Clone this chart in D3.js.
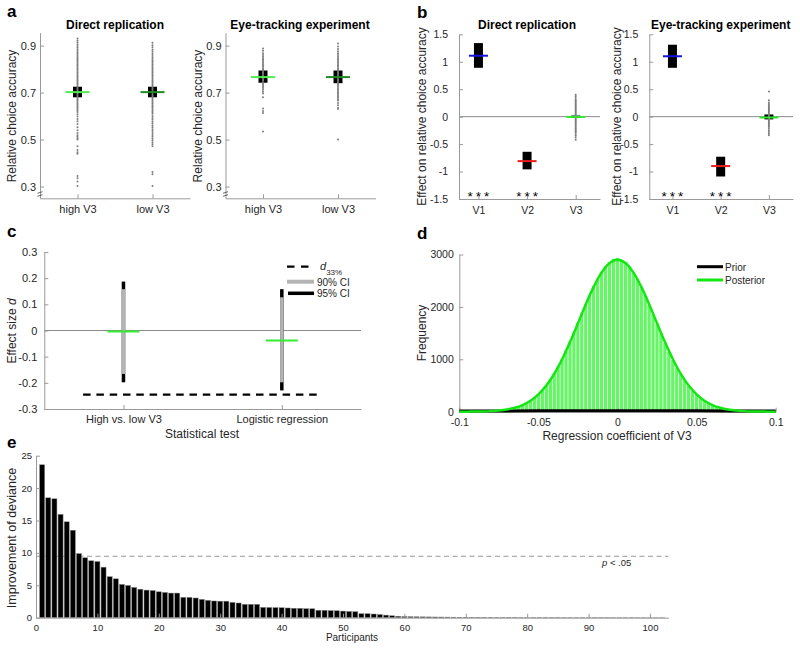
<!DOCTYPE html>
<html><head><meta charset="utf-8">
<script src="https://cdn.jsdelivr.net/npm/d3@7"></script>
<style>body{margin:0;background:#fff} svg{display:block}</style>
</head><body><svg id="chart" width="800" height="650"></svg>
<script>
// ---------------- DATA ----------------
// Panel a
const aCategories = ["high V3", "low V3"];
const aTicks = [0.3, 0.5, 0.7, 0.9];
const dirMedian = [0.702, 0.702];
const dirQ1 = [0.680, 0.680];
const dirQ3 = [0.725, 0.725];
const eyeMedian = [0.766, 0.766];
const eyeQ1 = [0.742, 0.740];
const eyeQ3 = [0.794, 0.794];
const dirHighDots = [0.93,0.922,0.914,0.906,0.898,0.891,0.884,0.877,0.870,0.864,0.858,0.852,0.846,0.840,0.834,0.828,0.822,0.816,0.810,0.804,0.798,0.792,0.786,0.780,0.774,0.768,0.762,0.756,0.750,0.744,0.738,0.732,0.726,0.720,0.714,0.708,0.702,0.696,0.690,0.684,0.678,0.672,0.666,0.660,0.654,0.648,0.642,0.636,0.630,0.624,0.617,0.608,0.598,0.588,0.578,0.566,0.553,0.540,0.528,0.518,0.512,0.506,0.500,0.472,0.456,0.446,0.440,0.345,0.335,0.322,0.302];
const dirLowDots = [0.912,0.902,0.893,0.884,0.876,0.868,0.860,0.852,0.845,0.838,0.832,0.826,0.820,0.814,0.808,0.802,0.796,0.790,0.784,0.778,0.772,0.766,0.760,0.754,0.748,0.742,0.736,0.730,0.724,0.718,0.712,0.706,0.700,0.694,0.688,0.682,0.676,0.670,0.664,0.658,0.652,0.646,0.640,0.634,0.628,0.622,0.616,0.610,0.600,0.592,0.584,0.576,0.568,0.560,0.552,0.544,0.536,0.528,0.520,0.512,0.504,0.496,0.488,0.480,0.472,0.362,0.352,0.302];
const eyeHighDots = [0.888,0.878,0.868,0.860,0.853,0.846,0.840,0.834,0.828,0.822,0.816,0.810,0.804,0.798,0.792,0.786,0.780,0.774,0.768,0.762,0.756,0.750,0.744,0.738,0.732,0.726,0.720,0.712,0.704,0.696,0.680,0.632,0.622,0.613,0.534];
const eyeLowDots = [0.909,0.896,0.886,0.876,0.868,0.860,0.853,0.846,0.840,0.834,0.828,0.822,0.816,0.810,0.804,0.798,0.792,0.786,0.780,0.774,0.768,0.762,0.756,0.750,0.744,0.738,0.732,0.726,0.720,0.714,0.708,0.702,0.696,0.690,0.684,0.678,0.672,0.666,0.656,0.646,0.636,0.630,0.500];

// Panel b
const bCategories = ["V1", "V2", "V3"];
const bTicks = [-1.5, -1, -0.5, 0, 0.5, 1, 1.5];
const dirEffect = [1.11, -0.81, -0.005];
const dirLo = [0.89, -0.96, -0.02];
const dirHi = [1.34, -0.64, 0.02];
const eyeEffect = [1.10, -0.90, -0.015];
const eyeLo = [0.89, -1.09, -0.05];
const eyeHi = [1.31, -0.73, 0.04];
const dirV3Dots = [0.40,0.37,0.34,0.31,0.29,0.27,0.25,0.23,0.21,0.19,0.17,0.15,0.13,0.11,0.09,0.07,0.05,0.03,0.01,-0.01,-0.03,-0.05,-0.07,-0.09,-0.11,-0.13,-0.15,-0.17,-0.19,-0.21,-0.23,-0.25,-0.27,-0.29,-0.32,-0.35,-0.38,-0.42];
const eyeV3Dots = [0.46,0.30,0.26,0.23,0.21,0.19,0.17,0.15,0.13,0.11,0.09,0.07,0.05,0.03,0.01,-0.01,-0.03,-0.05,-0.07,-0.09,-0.11,-0.13,-0.15,-0.17,-0.19,-0.22,-0.25,-0.28,-0.31,-0.34];
const bSignif = ["***", "***", ""];

// Panel c
const cCategories = ["High vs. low V3", "Logistic regression"];
const cTicks = [-0.3, -0.2, -0.1, 0, 0.1, 0.2, 0.3];
const cEffect = [-0.004, -0.038];
const cCI90lo = [-0.166, -0.198];
const cCI90hi = [0.158, 0.127];
const cCI95lo = [-0.198, -0.229];
const cCI95hi = [0.187, 0.158];
const cD33 = -0.245;
const cLegend = ["33%", "90% CI", "95% CI"];

// Panel d
const dTicksX = [-0.1, -0.05, 0, 0.05, 0.1];
const dTicksY = [0, 1000, 2000, 3000];
const histCenters = [-0.07,-0.0675,-0.065,-0.0625,-0.06,-0.0575,-0.055,-0.0525,-0.05,-0.0475,-0.045,-0.0425,-0.04,-0.0375,-0.035,-0.0325,-0.03,-0.0275,-0.025,-0.0225,-0.02,-0.0175,-0.015,-0.0125,-0.01,-0.0075,-0.005,-0.0025,0,0.0025,0.005,0.0075,0.01,0.0125,0.015,0.0175,0.02,0.0225,0.025,0.0275,0.03,0.0325,0.035,0.0375,0.04,0.0425,0.045,0.0475,0.05,0.0525,0.055,0.0575,0.06,0.0625,0.065,0.0675,0.07];
const histCounts = [40,55,75,100,130,168,215,270,335,415,505,610,735,870,1010,1170,1340,1520,1700,1880,2060,2230,2400,2540,2670,2770,2850,2920,2940,2900,2860,2780,2650,2540,2380,2220,2040,1860,1690,1500,1320,1150,990,850,720,600,495,405,330,262,208,162,125,96,72,54,40];
const postX = [-0.1,-0.095,-0.09,-0.085,-0.08,-0.075,-0.07,-0.065,-0.06,-0.055,-0.05,-0.045,-0.04,-0.035,-0.03,-0.025,-0.02,-0.015,-0.01,-0.005,0,0.005,0.01,0.015,0.02,0.025,0.03,0.035,0.04,0.045,0.05,0.055,0.06,0.065,0.07,0.075,0.08,0.085,0.09,0.095,0.1];
const postY = [0.5,1.2,2.5,5.5,11,22,41,74,127,210,331,500,723,1001,1328,1686,2050,2386,2659,2838,2900,2838,2659,2386,2050,1686,1328,1001,723,500,331,210,127,74,41,22,11,5.5,2.5,1.2,0.5];
const priorX = [-0.1, -0.05, 0, 0.05, 0.1];
const priorY = [14, 16, 17, 16, 14];
const dLegend = ["Prior", "Posterior"];

// Panel e
const eValues = [23.6,18.5,18.35,15.95,14.8,13.5,9.9,9.25,8.78,8.67,7.8,6.33,6.0,5.14,4.98,4.67,4.4,4.26,4.2,4.0,3.9,3.8,3.8,3.15,3.14,3.04,2.83,2.68,2.58,2.55,2.55,2.37,2.27,2.07,2.06,2.06,1.6,1.58,1.56,1.54,1.5,1.46,1.45,1.39,1.38,1.15,1.14,1.1,1.07,1.02,0.97,0.93,0.62,0.62,0.57,0.5,0.4,0.3,0.22,0.18,0.15,0.14,0.13,0.12,0.11,0.1,0.09,0.08,0.07,0.07,0.06,0.06,0.06,0.05,0.05,0.05,0.05,0.05,0.04,0.04,0.04,0.04,0.04,0.04,0.04,0.03,0.03,0.03,0.03,0.03,0.03,0.03,0.03,0.03,0.02,0.02,0.02,0.02,0.02,0.02,0.01,0.01];
const eTicksX = [0, 10, 20, 30, 40, 50, 60, 70, 80, 90, 100];
const eTicksY = [0, 5, 10, 15, 20, 25];
const eThreshold = 9.48;

// ---------------- DRAWING ----------------
const FONT = '"Liberation Sans", Arial, Helvetica, sans-serif';
const AX = "#9a9a9a", TX = "#262626";
const svg = d3.select("#chart").attr("font-family", FONT);
const fmt = d => String(+(+d).toFixed(3));

function styleAxis(s, fs) {
  s.attr("font-family", FONT);
  s.select(".domain").attr("stroke", AX);
  s.selectAll(".tick line").attr("stroke", AX);
  s.selectAll(".tick text").attr("fill", TX).attr("font-size", fs).attr("font-family", FONT);
}
function yAxis(y, ticks, xPos, pad, fs, f) {
  const s = svg.append("g").attr("transform", `translate(${xPos},0)`)
    .call(d3.axisLeft(y).tickValues(ticks).tickSize(-4).tickSizeOuter(0).tickPadding(pad).tickFormat(f || fmt));
  styleAxis(s, fs);
}
function xAxis(x, ticks, yPos, pad, fs, f) {
  const s = svg.append("g").attr("transform", `translate(0,${yPos})`)
    .call(d3.axisBottom(x).tickValues(ticks).tickSize(-4).tickSizeOuter(0).tickPadding(pad).tickFormat(f || fmt));
  styleAxis(s, fs);
}
function text(x, y, str, o = {}) {
  const t = svg.append("text").attr("x", x).attr("y", y).text(str)
    .attr("font-size", o.fs || 12).attr("fill", o.fill || TX)
    .attr("text-anchor", o.anchor || "start");
  if (o.bold) t.attr("font-weight", "bold");
  if (o.italic) t.attr("font-style", "italic");
  if (o.rot) t.attr("transform", `rotate(-90,${x},${y})`);
  return t;
}
function panelLetter(x, y, s) { text(x, y, s, {fs: 17, bold: true, fill: "#000"}); }

// ---- Panel a ----
function panelA(xRange, title, titleX, labelX, meds, q1, q3, dots, medColors) {
  const x = d3.scaleLinear().domain([0.5, 2.5]).range(xRange);
  const y = d3.scaleLinear().domain([0.25, 0.955]).range([198.3, 32.7]);
  yAxis(y, aTicks, xRange[0], 4, 11);
  xAxis(x, [1, 2], 198.3, 7, 11, i => aCategories[i - 1]);
  const bx = xRange[0];
  [192.5, 195.5].forEach(yy => svg.append("line").attr("x1", bx - 2.5).attr("x2", bx + 2.5)
    .attr("y1", yy + 0.8).attr("y2", yy - 0.8).attr("stroke", "#444").attr("stroke-width", 0.8));
  aCategories.forEach((c, i) => {
    const cx = x(i + 1);
    svg.append("rect").attr("x", cx - 4.5).attr("width", 9)
      .attr("y", y(q3[i])).attr("height", y(q1[i]) - y(q3[i])).attr("fill", "#000");
    svg.append("g").selectAll("circle").data(dots[i]).join("circle")
      .attr("cx", cx).attr("cy", d => y(d)).attr("r", 1).attr("fill", "#7d7d7d");
    svg.append("line").attr("x1", cx - 12).attr("x2", cx + 12)
      .attr("y1", y(meds[i])).attr("y2", y(meds[i])).attr("stroke", medColors[i]).attr("stroke-width", 2);
  });
  text(titleX, 29, title, {fs: 12, bold: true, anchor: "middle", fill: "#000"});
  text(labelX, 116, "Relative choice accuracy", {fs: 12, anchor: "middle", rot: true});
}
panelLetter(7, 17, "a");
panelA([40, 190], "Direct replication", 115, 16, dirMedian, dirQ1, dirQ3, [dirHighDots, dirLowDots], ["#4ded4d", "#1f8a1f"]);
panelA([225.5, 375.5], "Eye-tracking experiment", 300, 202, eyeMedian, eyeQ1, eyeQ3, [eyeHighDots, eyeLowDots], ["#4ded4d", "#1f8a1f"]);

// ---- Panel b ----
function panelB(domain, range, title, titleX, labelX, eff, lo, hi, v3dots) {
  const x = d3.scaleLinear().domain(domain).range(range);
  const y = d3.scaleLinear().domain([-1.5, 1.5]).range([199, 34.3]);
  svg.append("line").attr("x1", range[0]).attr("x2", range[1]).attr("y1", y(0)).attr("y2", y(0))
    .attr("stroke", "#8a8a8a").attr("stroke-width", 1);
  yAxis(y, bTicks, range[0], 11, 10.5);
  xAxis(x, [1, 2, 3], 199, 7.5, 10.5, i => bCategories[i - 1]);
  const colors = ["#1414e0", "#ee1c1c", "#2ee62e"];
  bCategories.forEach((c, i) => {
    const cx = x(i + 1);
    svg.append("rect").attr("x", cx - 4.5).attr("width", 9)
      .attr("y", y(hi[i])).attr("height", Math.max(1, y(lo[i]) - y(hi[i]))).attr("fill", "#000");
    if (i === 2) {
      svg.append("g").selectAll("circle").data(v3dots).join("circle")
        .attr("cx", cx).attr("cy", d => y(d)).attr("r", 1).attr("fill", "#7d7d7d");
    }
    svg.append("line").attr("x1", cx - 9.5).attr("x2", cx + 9.5)
      .attr("y1", y(eff[i])).attr("y2", y(eff[i])).attr("stroke", colors[i]).attr("stroke-width", 2);
    if (bSignif[i]) {
      svg.append("text").attr("x", cx + 1.5).attr("y", 200.6).text(bSignif[i])
        .attr("font-size", 13.5).attr("letter-spacing", 3).attr("text-anchor", "middle").attr("fill", "#000");
    }
  });
  text(titleX, 29, title, {fs: 12, bold: true, anchor: "middle", fill: "#000"});
  text(labelX, 116.5, "Effect on relative choice accuracy", {fs: 12, anchor: "middle", rot: true});
}
panelLetter(417, 18, "b");
panelB([0.6, 3.5], [459, 600], "Direct replication", 527, 426, dirEffect, dirLo, dirHi, dirV3Dots);
panelB([0.52, 3.5], [649.3, 793], "Eye-tracking experiment", 720.7, 621, eyeEffect, eyeLo, eyeHi, eyeV3Dots);

// ---- Panel c ----
(function () {
  const x = d3.scaleLinear().domain([0.5, 2.5]).range([44.3, 361]);
  const y = d3.scaleLinear().domain([-0.3, 0.3]).range([409, 252]);
  svg.append("line").attr("x1", 44.3).attr("x2", 361).attr("y1", y(0)).attr("y2", y(0))
    .attr("stroke", "#8a8a8a").attr("stroke-width", 1);
  yAxis(y, cTicks, 44.3, 7, 11);
  xAxis(x, [1, 2], 409, 6, 11, i => cCategories[i - 1]);
  cCategories.forEach((c, i) => {
    const cx = x(i + 1);
    svg.append("line").attr("x1", cx).attr("x2", cx).attr("y1", y(cCI95lo[i])).attr("y2", y(cCI95hi[i]))
      .attr("stroke", "#000").attr("stroke-width", 3.5);
    svg.append("line").attr("x1", cx).attr("x2", cx).attr("y1", y(cCI90lo[i])).attr("y2", y(cCI90hi[i]))
      .attr("stroke", "#b4b4b4").attr("stroke-width", 3.5);
    svg.append("line").attr("x1", cx - 16).attr("x2", cx + 16).attr("y1", y(cEffect[i])).attr("y2", y(cEffect[i]))
      .attr("stroke", "#33ee33").attr("stroke-width", 2);
  });
  svg.append("line").attr("x1", x(0.745)).attr("x2", x(2.25)).attr("y1", y(cD33)).attr("y2", y(cD33))
    .attr("stroke", "#000").attr("stroke-width", 2.2).attr("stroke-dasharray", "7.5,5.8");
  svg.append("line").attr("x1", 287).attr("x2", 309).attr("y1", 266.7).attr("y2", 266.7)
    .attr("stroke", "#000").attr("stroke-width", 2.2).attr("stroke-dasharray", "7.5,6.5");
  const t = svg.append("text").attr("x", 320).attr("y", 270).attr("fill", TX).attr("font-size", 11);
  t.append("tspan").text("d").attr("font-style", "italic");
  t.append("tspan").text(cLegend[0]).attr("font-size", 8).attr("dy", 4.5);
  svg.append("line").attr("x1", 287).attr("x2", 314).attr("y1", 281.7).attr("y2", 281.7)
    .attr("stroke", "#b4b4b4").attr("stroke-width", 4);
  text(317, 285.5, cLegend[1], {fs: 10});
  svg.append("line").attr("x1", 288).attr("x2", 314).attr("y1", 293.3).attr("y2", 293.3)
    .attr("stroke", "#000").attr("stroke-width", 3.5);
  text(317, 297, cLegend[2], {fs: 10});
  text(202, 438, "Statistical test", {fs: 12, anchor: "middle"});
  const yl = svg.append("text").attr("x", 15.5).attr("y", 331).attr("text-anchor", "middle")
    .attr("font-size", 12).attr("fill", TX).attr("transform", "rotate(-90,15.5,331)");
  yl.append("tspan").text("Effect size ");
  yl.append("tspan").text("d").attr("font-style", "italic");
})();
panelLetter(7, 237, "c");

// ---- Panel d ----
(function () {
  const x = d3.scaleLinear().domain([-0.1, 0.1]).range([459.3, 775.7]);
  const y = d3.scaleLinear().domain([0, 3000]).range([411.7, 254.5]);
  const bw = 0.0025;
  svg.append("g").selectAll("rect").data(histCenters).join("rect")
    .attr("x", d => x(d - bw / 2)).attr("width", d => x(d + bw / 2) - x(d - bw / 2))
    .attr("y", (d, i) => y(histCounts[i])).attr("height", (d, i) => y(0) - y(histCounts[i]))
    .attr("fill", "#66f566").attr("stroke", "#ffffff").attr("stroke-width", 0.5);
  yAxis(y, dTicksY, 459.3, 5.5, 10.5);
  xAxis(x, dTicksX, 411.7, 6.5, 10.5);
  const line = d3.line().x(d => x(d[0])).y(d => y(d[1])).curve(d3.curveCatmullRom);
  svg.append("path").attr("d", line(priorX.map((v, i) => [v, priorY[i]])))
    .attr("fill", "none").attr("stroke", "#000").attr("stroke-width", 3);
  svg.append("path").attr("d", line(postX.map((v, i) => [v, postY[i]])))
    .attr("fill", "none").attr("stroke", "#14e614").attr("stroke-width", 2.5);
  svg.append("line").attr("x1", 697).attr("x2", 723).attr("y1", 266.7).attr("y2", 266.7)
    .attr("stroke", "#000").attr("stroke-width", 3);
  text(725, 271, dLegend[0], {fs: 10});
  svg.append("line").attr("x1", 697).attr("x2", 723).attr("y1", 280).attr("y2", 280)
    .attr("stroke", "#14e614").attr("stroke-width", 3);
  text(725, 284, dLegend[1], {fs: 10});
  text(617, 440, "Regression coefficient of V3", {fs: 12, anchor: "middle"});
  text(426, 333, "Frequency", {fs: 12, anchor: "middle", rot: true});
})();
panelLetter(417, 239, "d");

// ---- Panel e ----
(function () {
  const x = d3.scaleLinear().domain([0, 103]).range([36, 668.4]);
  const y = d3.scaleLinear().domain([0, 25]).range([617.7, 455.7]);
  const step = x(1) - x(0), w = step * 0.82;
  svg.append("line").attr("x1", 36).attr("x2", 668.4).attr("y1", y(eThreshold)).attr("y2", y(eThreshold))
    .attr("stroke", "#999").attr("stroke-width", 1).attr("stroke-dasharray", "5,3.5");
  svg.append("g").selectAll("rect").data(eValues).join("rect")
    .attr("x", (d, i) => x(i + 1) - w / 2).attr("width", w)
    .attr("y", d => y(d)).attr("height", d => y(0) - y(d))
    .attr("fill", "#000").attr("stroke", "#888").attr("stroke-width", 0.5);
  yAxis(y, eTicksY, 36, 4, 9.5);
  xAxis(x, eTicksX, 617.7, 6.5, 9.5);
  const p = svg.append("text").attr("x", 602).attr("y", 566).attr("font-size", 9.5).attr("fill", TX);
  p.append("tspan").text("p").attr("font-style", "italic");
  p.append("tspan").text(" < .05");
  text(352, 641, "Participants", {fs: 10, anchor: "middle"});
  text(16, 538, "Improvement of deviance", {fs: 12.5, anchor: "middle", rot: true});
})();
panelLetter(7, 448, "e");
</script></body></html>
